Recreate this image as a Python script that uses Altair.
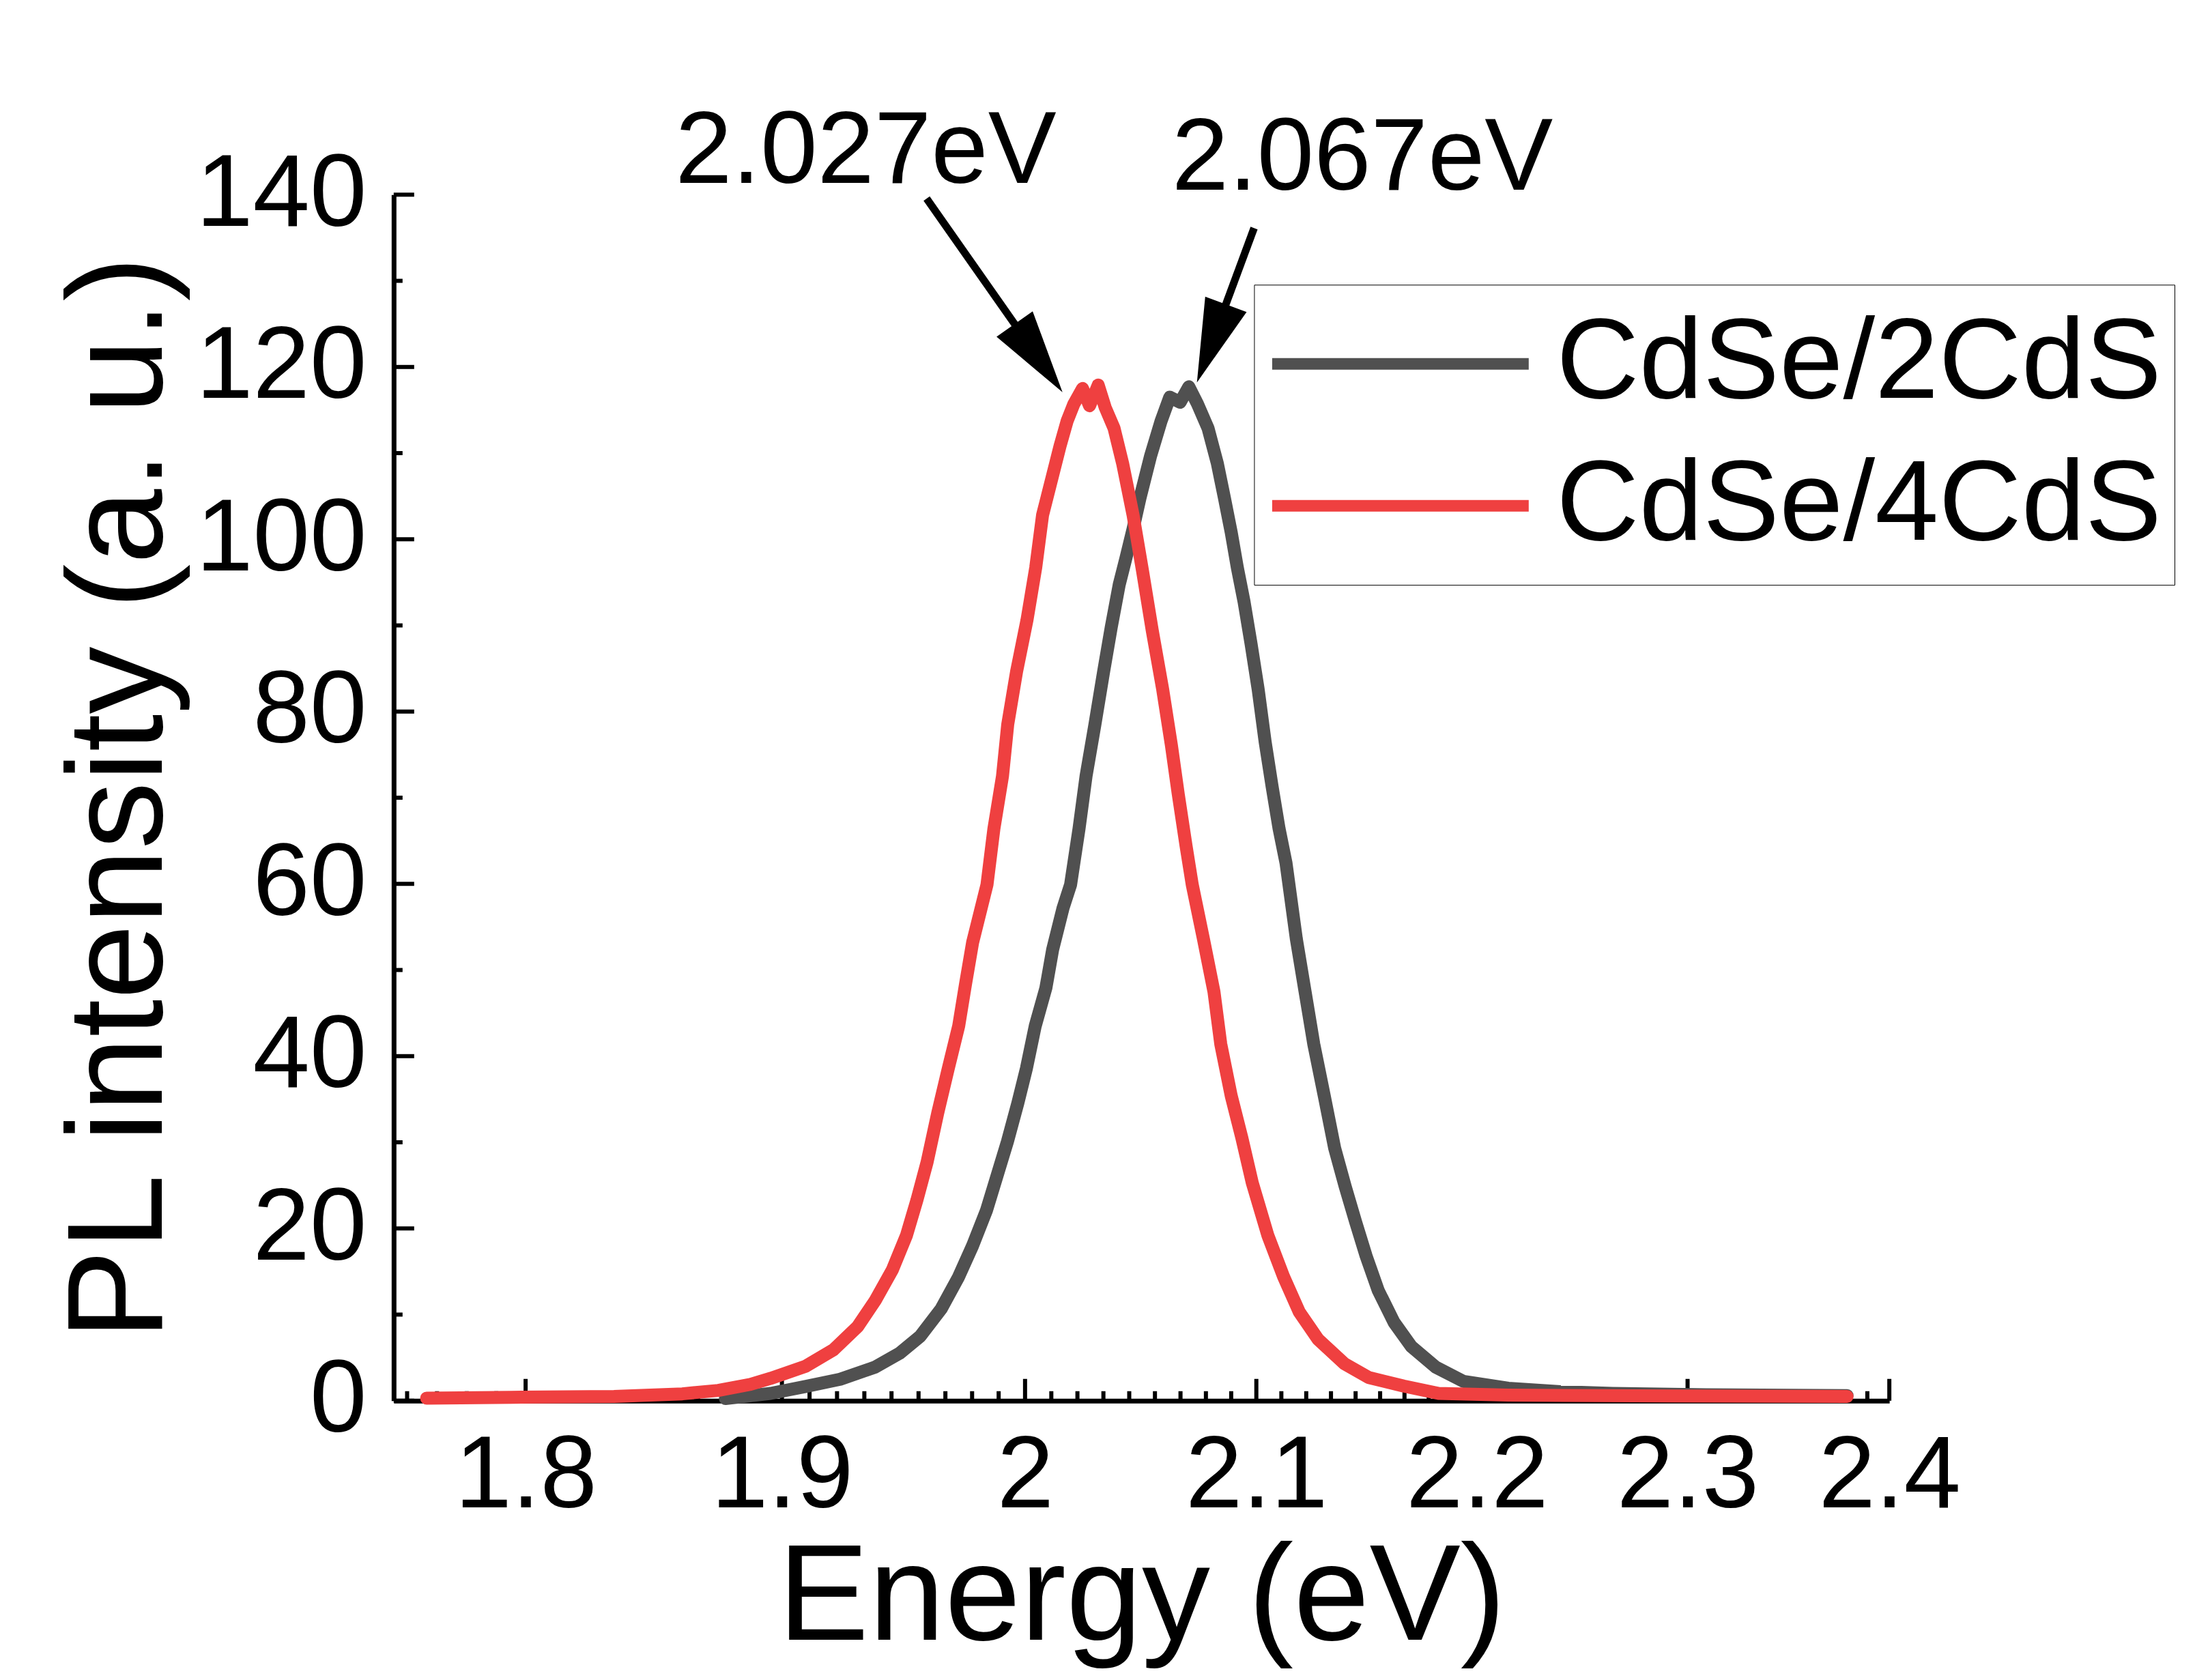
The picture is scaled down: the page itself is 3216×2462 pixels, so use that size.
import altair as alt
import pandas as pd

# ---------------- data ----------------
series_names = ["CdSe/2CdS", "CdSe/4CdS"]
series_colors = ["#505050", "#EF4040"]

energy_2cds = [1.8775, 1.8955, 1.9095, 1.9235, 1.9377, 1.9477, 1.9563, 1.9650, 1.9722, 1.9780,
               1.9838, 1.9882, 1.9926, 1.9970, 2.0006, 2.0043, 2.0088, 2.0117, 2.0161, 2.0193,
               2.0229, 2.0259, 2.0297, 2.0334, 2.0367, 2.0401, 2.0431, 2.0461, 2.0491, 2.0536,
               2.0582, 2.0620, 2.0665, 2.0703, 2.0741, 2.0787, 2.0828, 2.0859, 2.0889, 2.0916,
               2.0946, 2.0977, 2.1008, 2.1039, 2.1070, 2.1101, 2.1132, 2.1178, 2.1217, 2.1256,
               2.1303, 2.1350, 2.1397, 2.1444, 2.1492, 2.1547, 2.1619, 2.1698, 2.1810, 2.1938,
               2.2146, 2.2391, 2.2639, 2.3089, 2.3787]
pl_2cds = [0.25, 0.85, 1.65, 2.5, 3.9, 5.5, 7.5, 10.7, 14.4, 18.0,
           22.1, 26.1, 30.1, 34.6, 38.6, 43.5, 47.9, 52.4, 57.2, 59.9,
           66.4, 72.5, 78.5, 84.6, 89.8, 94.7, 97.9, 101.2, 104.8, 109.6,
           113.7, 116.5, 115.9, 117.7, 115.7, 112.9, 108.8, 104.8, 100.8, 96.7,
           92.7, 87.8, 82.6, 76.5, 71.3, 66.4, 62.4, 53.6, 47.5, 41.4,
           35.4, 29.3, 24.9, 20.8, 16.8, 12.8, 9.1, 6.3, 3.9, 2.25,
           1.45, 1.05, 0.85, 0.7, 0.6]

energy_4cds = [1.7628, 1.7947, 1.8339, 1.8605, 1.8747, 1.8874, 1.8955, 1.9095, 1.9207, 1.9306,
               1.9377, 1.9448, 1.9506, 1.9549, 1.9591, 1.9635, 1.9679, 1.9722, 1.9750, 1.9780,
               1.9840, 1.9869, 1.9905, 1.9927, 1.9964, 2.0008, 2.0045, 2.0074, 2.0111, 2.0148,
               2.0178, 2.0207, 2.0244, 2.0274, 2.0311, 2.0341, 2.0379, 2.0416, 2.0461, 2.0502,
               2.0544, 2.0589, 2.0627, 2.0657, 2.0691, 2.0718, 2.0767, 2.0813, 2.0843, 2.0889,
               2.0936, 2.0982, 2.1051, 2.1121, 2.1191, 2.1276, 2.1394, 2.1504, 2.1663, 2.1823,
               2.2146, 2.2923, 2.3787]
pl_4cds = [0.3, 0.4, 0.5, 0.8, 1.2, 1.9, 2.6, 4.0, 5.9, 8.6,
           11.6, 15.2, 19.2, 23.3, 27.7, 33.4, 38.6, 43.5, 48.3, 53.2,
           59.9, 66.4, 72.5, 78.5, 84.6, 90.6, 96.7, 102.8, 106.8, 110.8,
           113.7, 115.7, 117.5, 115.5, 117.9, 115.3, 112.9, 108.8, 102.8, 96.3,
           89.4, 82.6, 76.1, 70.4, 64.4, 59.9, 53.6, 47.5, 41.4, 35.4,
           30.5, 25.3, 19.2, 14.4, 10.3, 7.1, 4.3, 2.7, 1.7, 0.85,
           0.65, 0.55, 0.5]

# axis ticks
x_major = [1.8, 1.9, 2.0, 2.1, 2.2, 2.3, 2.4]
y_major = [0, 20, 40, 60, 80, 100, 120, 140]
y_minor = [10, 30, 50, 70, 90, 110, 130]
x_minor = [round(1.8 - j * 0.1 / 9, 5) for j in range(1, 5)] + \
          [round(m + j * 0.1 / 9, 5) for m in x_major[:-1] for j in range(1, 9)]

# annotations
peak_labels = ["2.027eV", "2.067eV"]
label_energy = [1.9339, 2.1475]
label_pl = [141.34, 140.55]
arrow_tail_energy = [1.9589, 2.0990]
arrow_tail_pl = [139.55, 136.12]
arrow_head_energy = [2.0057, 2.0802]
arrow_head_pl = [121.03, 122.74]
arrow_angle = [144.9, 200.35]

# ---------------- layout ----------------
W, H = 2192, 1768
FONT = "Liberation Sans"

df_2 = pd.DataFrame({"energy": energy_2cds, "pl": pl_2cds, "sample": series_names[0]})
df_4 = pd.DataFrame({"energy": energy_4cds, "pl": pl_4cds, "sample": series_names[1]})
df_xmaj = pd.DataFrame({"energy": x_major})
df_xmin = pd.DataFrame({"energy": x_minor})
df_ymaj = pd.DataFrame({"pl": y_major})
df_ymin = pd.DataFrame({"pl": y_minor})
df_arrow = pd.DataFrame({"energy": arrow_tail_energy, "pl": arrow_tail_pl,
                         "energy2": arrow_head_energy, "pl2": arrow_head_pl})
df_head = pd.DataFrame({"energy": arrow_head_energy, "pl": arrow_head_pl, "angle": arrow_angle})
df_text = pd.DataFrame({"energy": label_energy, "pl": label_pl, "label": peak_labels})

xscale = alt.Scale(type="log", domain=[1.7506, 2.4], nice=False, zero=False)
yscale = alt.Scale(domain=[0, 140], nice=False, zero=True)
cscale = alt.Scale(domain=series_names, range=series_colors)

x_axis = alt.Axis(values=x_major, format="~g", labelFlush=False, labelOverlap=False,
                  labelLimit=2000, ticks=False, tickSize=0, labelPadding=37, grid=False,
                  domainWidth=7, domainColor="black",
                  labelFont=FONT, labelFontSize=150, labelColor="black",
                  titleFont=FONT, titleFontSize=200, titleFontWeight="normal", titleColor="black",
                  titleY=350, titleBaseline="alphabetic", titleAlign="center", titleLimit=5000)
y_axis = alt.Axis(values=y_major, labelOverlap=False, labelLimit=2000, ticks=False, tickSize=0,
                  labelPadding=40, grid=False, domainWidth=7, domainColor="black",
                  labelFont=FONT, labelFontSize=150, labelColor="black",
                  titleFont=FONT, titleFontSize=198, titleFontWeight="normal", titleColor="black",
                  titleX=-340, titleY=884, titleAngle=270, titleBaseline="alphabetic",
                  titleAlign="center", titleLimit=5000)

X = alt.X("energy:Q", scale=xscale, axis=x_axis, title="Energy (eV)")
Y = alt.Y("pl:Q", scale=yscale, axis=y_axis, title="PL intensity (a. u.)")

legend = alt.Legend(title=None, orient="none", legendX=1261, legendY=132,
                    symbolType="stroke", symbolSize=141376, symbolStrokeWidth=17,
                    clipHeight=196, rowPadding=12, padding=18, labelOffset=32,
                    labelFont=FONT, labelFontSize=168, labelColor="black", labelLimit=3000,
                    strokeColor="black")
C = alt.Color("sample:N", scale=cscale, legend=legend)

xmaj_ticks = alt.Chart(df_xmaj).mark_rule(color="black", strokeWidth=6).encode(
    x=X, y=alt.value(H), y2=alt.value(H - 32))
xmin_ticks = alt.Chart(df_xmin).mark_rule(color="black", strokeWidth=6).encode(
    x=X, y=alt.value(H), y2=alt.value(H - 14))
ymaj_ticks = alt.Chart(df_ymaj).mark_rule(color="black", strokeWidth=6).encode(
    y=Y, x=alt.value(0), x2=alt.value(30))
ymin_ticks = alt.Chart(df_ymin).mark_rule(color="black", strokeWidth=6).encode(
    y=Y, x=alt.value(0), x2=alt.value(13))

line_2 = alt.Chart(df_2).mark_line(strokeWidth=19, strokeJoin="round", strokeCap="round").encode(
    x=X, y=Y, color=C)
line_4 = alt.Chart(df_4).mark_line(strokeWidth=19, strokeJoin="round", strokeCap="round").encode(
    x=X, y=Y, color=C)

shafts = alt.Chart(df_arrow).mark_rule(color="black", strokeWidth=11).encode(
    x=X, y=Y, x2="energy2:Q", y2="pl2:Q")
heads = alt.Chart(df_head).mark_point(shape="M0,-1L0.53,1L-0.53,1Z", filled=True, size=14900,
                                      color="black", opacity=1).encode(
    x=X, y=Y, angle=alt.Angle("angle:Q", scale=None))
texts = alt.Chart(df_text).mark_text(font=FONT, fontSize=150, align="center",
                                     baseline="alphabetic", color="black").encode(
    x=X, y=Y, text="label:N")

chart = alt.layer(xmaj_ticks, xmin_ticks, ymaj_ticks, ymin_ticks, line_2, line_4,
                  shafts, heads, texts).properties(
    width=W, height=H,
    autosize="none",
    padding={"left": 569, "top": 277, "right": 440, "bottom": 400},
    background="white",
).configure_view(stroke=None)

chart.save("out.html", embed_options={"renderer": "svg", "actions": False})
